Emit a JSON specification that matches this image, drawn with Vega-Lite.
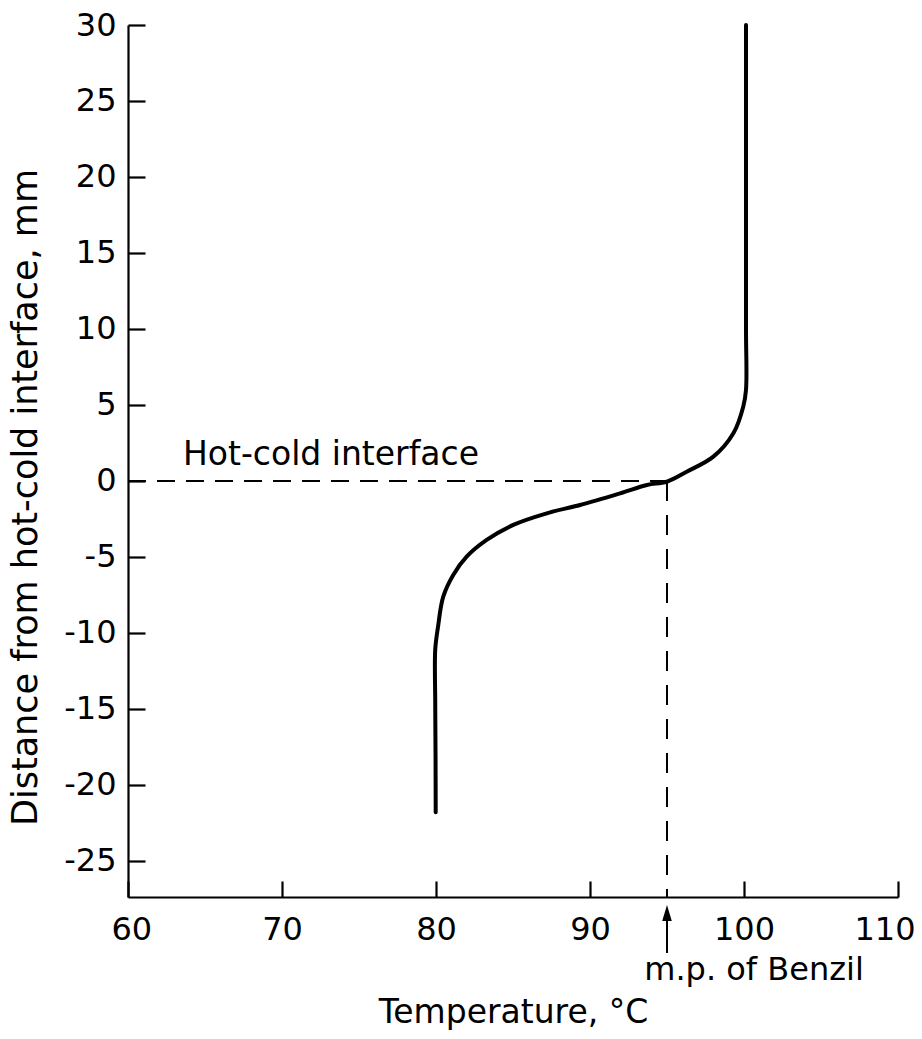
{
  "$schema": "https://vega.github.io/schema/vega-lite/v6.json",
  "width": 770,
  "height": 872,
  "autosize": "none",
  "padding": {"left": 128, "top": 25, "right": 24, "bottom": 142},
  "background": "white",
  "config": {
    "view": {"stroke": null},
    "font": "DejaVu Sans",
    "axis": {
      "grid": false,
      "domainColor": "black",
      "domainWidth": 2.2,
      "tickColor": "black",
      "tickWidth": 2.2,
      "labelColor": "black",
      "titleColor": "black",
      "labelFont": "DejaVu Sans",
      "titleFont": "DejaVu Sans",
      "labelFontSize": 32,
      "labelFlush": false,
      "labelOverlap": false,
      "titleFontWeight": "normal",
      "labelExpr": "replace(datum.label, '−', '-')"
    }
  },
  "datasets": {
    "curve": [
      {"i": 1, "T": 79.98, "D": -21.8},
      {"i": 2, "T": 79.97, "D": -18.0},
      {"i": 3, "T": 79.95, "D": -14.5},
      {"i": 4, "T": 79.95, "D": -11.1},
      {"i": 5, "T": 80.13, "D": -9.6},
      {"i": 6, "T": 80.47, "D": -7.61},
      {"i": 7, "T": 81.12, "D": -6.18},
      {"i": 8, "T": 81.99, "D": -4.98},
      {"i": 9, "T": 83.29, "D": -3.88},
      {"i": 10, "T": 85.02, "D": -2.89},
      {"i": 11, "T": 87.19, "D": -2.13},
      {"i": 12, "T": 89.35, "D": -1.58},
      {"i": 13, "T": 91.95, "D": -0.81},
      {"i": 14, "T": 93.7, "D": -0.26},
      {"i": 15, "T": 94.98, "D": -0.05},
      {"i": 16, "T": 96.28, "D": 0.61},
      {"i": 17, "T": 98.01, "D": 1.6},
      {"i": 18, "T": 99.31, "D": 3.14},
      {"i": 19, "T": 99.95, "D": 4.89},
      {"i": 20, "T": 100.13, "D": 6.0},
      {"i": 21, "T": 100.13, "D": 10.0},
      {"i": 22, "T": 100.13, "D": 20.0},
      {"i": 23, "T": 100.13, "D": 30.0}
    ],
    "hline": [{"T": 60, "T2": 95, "D": 0}],
    "vline": [{"T": 95, "D": 0, "D2": -27.37}],
    "arrow": [{"T": 95, "D": -28.7, "D2": -31.05, "Dh": -28.42}],
    "label1": [{"T": 63.57, "D": 1.05, "text": "Hot-cold interface"}],
    "label2": [{"T": 100.65, "D": -32.83, "text": "m.p. of Benzil"}]
  },
  "layer": [
    {
      "data": {"name": "curve"},
      "mark": {"type": "line", "color": "black", "strokeWidth": 4, "interpolate": "catmull-rom", "strokeCap": "round"},
      "encoding": {
        "x": {
          "field": "T", "type": "quantitative",
          "scale": {"domain": [60, 110], "nice": false, "zero": false},
          "axis": {
            "values": [60, 70, 80, 90, 100, 110],
            "tickSize": -16,
            "labelPadding": 33,
            "labelFlush": true,
            "labelFlushOffset": 17,
            "titlePadding": 51,
            "titleFontSize": 33,
            "title": "Temperature, °C"
          }
        },
        "y": {
          "field": "D", "type": "quantitative",
          "scale": {"domain": [-27.37, 30], "nice": false, "zero": false},
          "axis": {
            "values": [-25, -20, -15, -10, -5, 0, 5, 10, 15, 20, 25, 30],
            "tickSize": -17,
            "labelPadding": 29,
            "titlePadding": 20,
            "titleFontSize": 35,
            "titleY": 472,
            "title": "Distance from hot-cold interface, mm"
          }
        },
        "order": {"field": "i", "type": "quantitative"}
      }
    },
    {
      "data": {"name": "hline"},
      "mark": {"type": "rule", "color": "black", "strokeWidth": 2.2, "strokeDash": [18, 11]},
      "encoding": {
        "x": {"field": "T", "type": "quantitative"},
        "x2": {"field": "T2"},
        "y": {"field": "D", "type": "quantitative"}
      }
    },
    {
      "data": {"name": "vline"},
      "mark": {"type": "rule", "color": "black", "strokeWidth": 2, "strokeDash": [20, 14]},
      "encoding": {
        "x": {"field": "T", "type": "quantitative"},
        "y": {"field": "D", "type": "quantitative"},
        "y2": {"field": "D2"}
      }
    },
    {
      "data": {"name": "arrow"},
      "mark": {"type": "rule", "color": "black", "strokeWidth": 2},
      "encoding": {
        "x": {"field": "T", "type": "quantitative"},
        "y": {"field": "D", "type": "quantitative"},
        "y2": {"field": "D2"}
      }
    },
    {
      "data": {"name": "arrow"},
      "mark": {"type": "point", "shape": "M0,-1L0.6,1L-0.6,1Z", "filled": true, "color": "black", "size": 256, "opacity": 1},
      "encoding": {
        "x": {"field": "T", "type": "quantitative"},
        "y": {"field": "Dh", "type": "quantitative"}
      }
    },
    {
      "data": {"name": "label1"},
      "mark": {"type": "text", "color": "black", "fontSize": 33, "align": "left", "baseline": "alphabetic", "font": "DejaVu Sans"},
      "encoding": {
        "x": {"field": "T", "type": "quantitative"},
        "y": {"field": "D", "type": "quantitative"},
        "text": {"field": "text"}
      }
    },
    {
      "data": {"name": "label2"},
      "mark": {"type": "text", "color": "black", "fontSize": 32, "align": "center", "baseline": "alphabetic", "font": "DejaVu Sans"},
      "encoding": {
        "x": {"field": "T", "type": "quantitative"},
        "y": {"field": "D", "type": "quantitative"},
        "text": {"field": "text"}
      }
    }
  ]
}
